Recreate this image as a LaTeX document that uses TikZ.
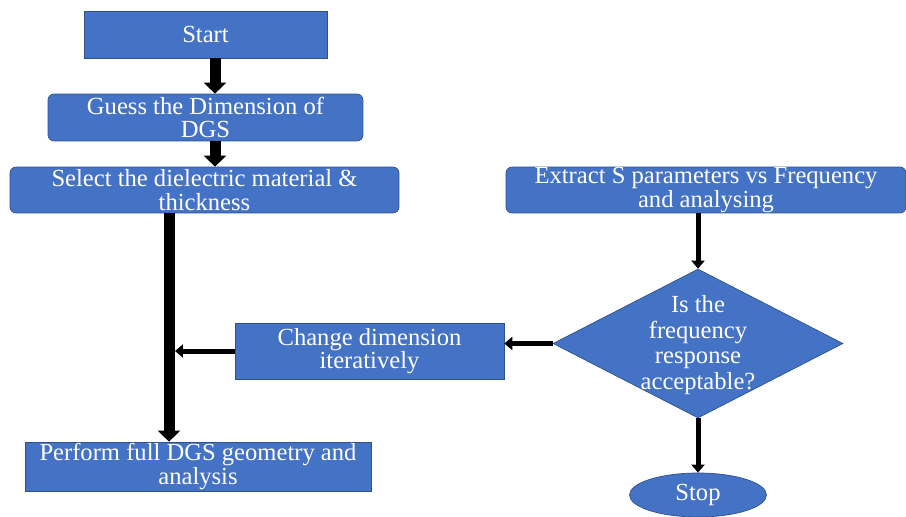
\documentclass[tikz,border=0pt]{standalone}
\usepackage{fontspec}
\setmainfont{Liberation Serif}
\usetikzlibrary{positioning}
\usetikzlibrary{shapes.geometric}
\usetikzlibrary{arrows.meta}
\definecolor{boxFill}{HTML}{4472C4}
\definecolor{boxLine}{HTML}{2F528F}

\begin{document}
\begin{tikzpicture}[x=0.02cm, y=-0.02cm]

  \tikzstyle{stepBox} = [rectangle, draw=boxLine, fill=boxFill, text=white, align=center, inner sep=0pt, font=\fontsize{14}{13.5}\selectfont];
  \tikzstyle{roundBox} = [stepBox, rounded corners=0.12cm];
  \tikzstyle{decision} = [diamond, draw=boxLine, fill=boxFill, inner sep=0pt, minimum width=5.8cm, minimum height=2.98cm];
  \tikzstyle{terminal} = [ellipse, draw=boxLine, fill=boxFill, text=white, inner sep=0pt, minimum width=2.74cm, minimum height=0.88cm, font=\fontsize{14}{13.5}\selectfont];
  \tikzstyle{heavyArrow} = [line width=0.22cm, -{Triangle[width=0.44cm, length=0.22cm]}];
  \tikzstyle{lightArrow} = [line width=0.1cm, -{Triangle[width=0.26cm, length=0.16cm]}];

  \useasboundingbox[fill=white] (0,0) rectangle (906,517);

  % left column
  \node[stepBox, minimum width=4.86cm, minimum height=0.94cm] (start) at (205.5,34.5) {Start};
  \node[roundBox, minimum width=6.3cm, minimum height=0.94cm] (guess) at (205.5,117.5) {Guess the Dimension of\\DGS};
  \node[roundBox, minimum width=7.78cm, minimum height=0.92cm] (select) at (204.5,190) {Select the dielectric material \&\\thickness};
  \node[stepBox, minimum width=6.92cm, minimum height=0.98cm] (perform) at (198,466.5) {Perform full DGS geometry and\\analysis};

  % right column
  \node[roundBox, minimum width=8cm, minimum height=0.92cm] (extract) at (706,190) {Extract S parameters vs Frequency\\and analysing};
  \node[decision] (check) at (698,343.5) {};
  \node[text=white, align=center, font=\fontsize{14}{14.5}\selectfont] (checkText) at (698,345) {Is the\\frequency\\response\\acceptable?};
  \node[terminal] (stop) at (698,495) {Stop};
  \node[stepBox, minimum width=5.38cm, minimum height=1.12cm] (change) at (369.5,351) {Change dimension\\iteratively};

  \coordinate (spine) at (215,0);
  \coordinate (trunk) at (169,0);
  \coordinate (join) at (trunk |- change.west);

  \draw[heavyArrow] (start.south -| spine) -- (guess.north -| spine);
  \draw[heavyArrow] (guess.south -| spine) -- (select.north -| spine);
  \draw[heavyArrow] (select.south -| trunk) -- (perform.north -| trunk);
  \draw[lightArrow, shorten >=0.12cm] (change.west) -- (join);
  \draw[lightArrow] (extract.south -| check.north) -- (check.north);
  \draw[lightArrow] (check.west) -- (check.west -| change.east);
  \draw[lightArrow] (check.south) -- (stop.north);

\end{tikzpicture}
\end{document}
